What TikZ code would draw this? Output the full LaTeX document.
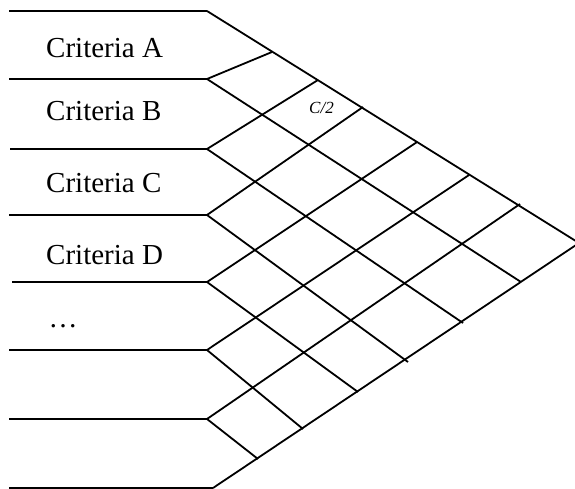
\documentclass[tikz,border=0pt]{standalone}
\usepackage{fontspec}
\setmainfont{Liberation Serif}
\begin{document}
\begin{tikzpicture}[x=1pt,y=-1pt,
  gridline/.style={draw=black, line width=1.8pt, line join=miter},
  crit/.style={anchor=base west, inner sep=0pt, font=\fontsize{29pt}{34pt}\selectfont},
  cell/.style={anchor=base west, inner sep=0pt, font=\fontsize{17pt}{20pt}\selectfont\itshape}]
\useasboundingbox (0,0) rectangle (575,489);
% left ends of the horizontal lines
\coordinate (L0) at (9,11);
\coordinate (L1) at (9,79);
\coordinate (L2) at (10,149);
\coordinate (L3) at (9,215);
\coordinate (L4) at (12,282);
\coordinate (L5) at (9,350);
\coordinate (L6) at (9,419);
\coordinate (L7) at (9,488);
% junctions
\coordinate (J0) at (207,11);
\coordinate (J1) at (207,79);
\coordinate (J2) at (207,149);
\coordinate (J3) at (207,215);
\coordinate (J4) at (207,282);
\coordinate (J5) at (207,350);
\coordinate (J6) at (207,419);
\coordinate (J7) at (213,488);
% apex
\coordinate (A) at (579,243);
% ends on the top edge
\coordinate (T1) at (272,52);
\coordinate (T2) at (318,80);
\coordinate (T3) at (363,107);
\coordinate (T4) at (417,142);
\coordinate (T5) at (469,175);
\coordinate (T6) at (520,204);
% ends on the bottom edge
\coordinate (B1) at (521,282);
\coordinate (B2) at (463,323);
\coordinate (B3) at (408,362);
\coordinate (B4) at (358,392);
\coordinate (B5) at (303,429);
\coordinate (B6) at (258,459);

% horizontal lines
\foreach \i in {0,...,7} { \draw[gridline] (L\i) -- (J\i); }
% outer edges
\draw[gridline] (J0) -- (A);
\draw[gridline] (J7) -- (A);
% inner lattice
\foreach \i in {1,...,6} {
  \draw[gridline] (J\i) -- (B\i);
  \draw[gridline] (J\i) -- (T\i);
}

% labels
\node[crit] (ca) at (46,58) {Criteria A};
\node[crit] (cb) at (46,121) {Criteria B};
\node[crit] (cc) at (46,193) {Criteria C};
\node[crit] (cd) at (46,264) {Criteria D};
\node[crit] (dots) at (48.5,327) {…};
\node[cell] (c2) at (309,114) {C/2};
\end{tikzpicture}
\end{document}
